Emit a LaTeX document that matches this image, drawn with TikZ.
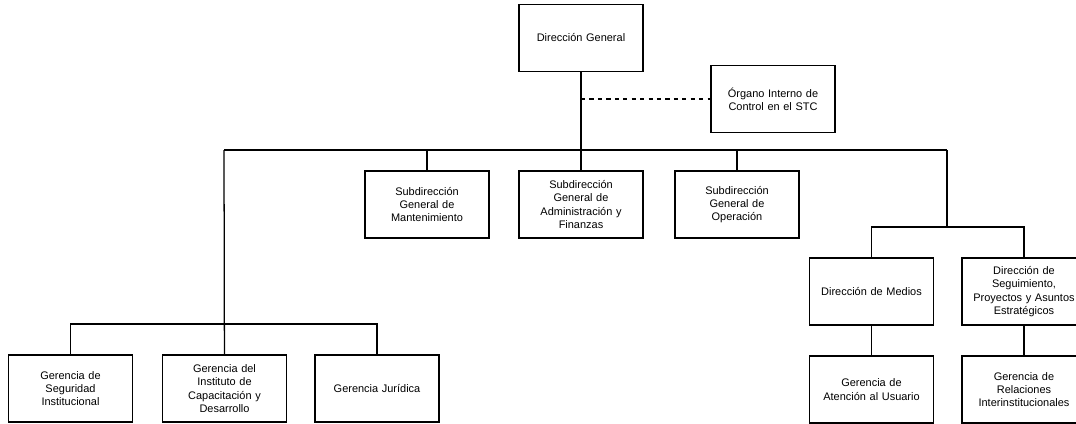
\documentclass[tikz,border=0pt]{standalone}
\usepackage{fontspec}
\setmainfont{Liberation Sans}
\usepackage{tikz}
\usetikzlibrary{positioning,calc}

\tikzset{
	unidad/.style={draw, line width=0.9pt, minimum width=3.1cm, minimum height=1.675cm,
		text width=2.9cm, align=center, inner sep=1pt,
		font=\fontsize{7.8}{9.4}\selectfont},
	linea/.style={line width=0.9pt}
}

\begin{document}
\begin{tikzpicture}[x=0.025cm, y=-0.025cm]
		\useasboundingbox (0,0) rectangle (1076,423);
		\coordinate (barL) at (224,150);
		\coordinate (barR) at (947,150);
		\coordinate (barMed) at (947,227); % medios
		\coordinate (barGer) at (224,324); % gerencias

		\node[unidad] (dg) at (581,38) {Dirección General};
		\node[unidad] (oic) at (773,99) {Órgano Interno de\\ Control en el STC};

		\node[unidad] (sgm) at (427,204.5) {Subdirección\\ General de\\ Mantenimiento};
		\node[unidad] (sgaf) at (581,204.5) {Subdirección\\ General de\\ Administración y\\ Finanzas};
		\node[unidad] (sgo) at (737,204.5) {Subdirección\\ General de\\ Operación};

		\node[unidad] (dm) at (871.5,291.5) {Dirección de Medios};
		\node[unidad] (dsp) at (1024,291.5) {Dirección de\\ Seguimiento,\\ Proyectos y Asuntos\\ Estratégicos};
		\node[unidad] (gau) at (871.5,389.5) {Gerencia de\\ Atención al Usuario};
		\node[unidad] (gri) at (1024,389.5) {Gerencia de\\ Relaciones\\ Interinstitucionales};

		\node[unidad] (gsi) at (70.5,388.5) {Gerencia de\\ Seguridad\\ Institucional};
		\node[unidad] (gic) at (224.5,388.5) {Gerencia del\\ Instituto de\\ Capacitación y\\ Desarrollo};
		\node[unidad] (gj) at (377,388.5) {Gerencia Jurídica};

		\draw[linea] (dg) -- (sgaf);
		\draw[linea, dashed] (dg.south |- oic.west) -- (oic.west);
		\draw[linea] (barL) -- (barR);
		\draw[linea] (sgm.north |- barL) -- (sgm);
		\draw[linea] (sgo.north |- barL) -- (sgo);
		\draw[linea] (barR) -- (barMed);
		\draw[linea] (barMed) -| (dm.north);
		\draw[linea] (barMed) -| (dsp.north);
		\draw[linea] (dm) -- (gau);
		\draw[linea] (dsp) -- (gri);
		\draw[linea] (barL) -- (gic);
		\draw[linea] (barGer) -| (gsi.north);
		\draw[linea] (barGer) -| (gj.north);
	\end{tikzpicture}
\end{document}
